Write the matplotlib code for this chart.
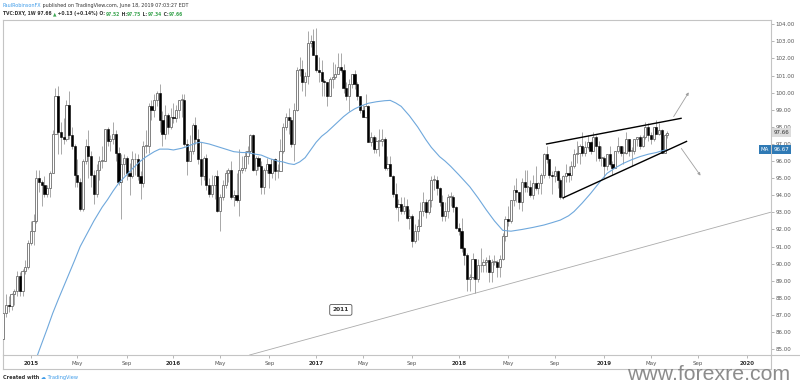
import numpy as np
import pandas as pd
import matplotlib
matplotlib.use("Agg")
import matplotlib.pyplot as plt
from matplotlib.lines import Line2D

# weekly DXY bars, first bar = week of 2014-10-27
first_week = "2014-10-27"

opens = [
    85.6, 87.1, 87.6, 87.5, 88.2, 88.4, 89.3, 88.4, 89.6, 89.8,
    # 2015
    91.2, 91.9, 92.5, 95.0, 94.8, 94.6, 94.1, 94.4, 95.3, 97.6, 99.8, 97.7, 97.4,
    97.3, 99.3, 97.5, 96.9, 95.2, 94.8, 93.2, 96.0, 96.9, 96.3, 95.2, 94.1, 95.5,
    96.0, 96.0, 97.9, 97.2, 97.3, 97.6, 96.5, 94.8, 95.8, 96.2, 95.3, 95.1, 96.1,
    96.1, 95.1, 94.7, 96.9, 96.9, 99.2, 99.0, 99.6, 100.0, 98.4, 97.6, 98.7, 98.0,
    # 2016
    98.6, 98.5, 99.0, 99.6, 99.6, 97.0, 96.0, 96.6, 98.1, 97.3, 96.1, 95.1, 96.2,
    94.6, 94.1, 94.6, 95.1, 93.1, 93.9, 94.6, 95.3, 95.5, 93.9, 94.0, 93.7, 95.5,
    95.6, 96.3, 96.6, 97.5, 95.5, 96.2, 95.7, 94.5, 95.5, 95.8, 95.3, 96.1, 95.4,
    95.4, 96.6, 98.0, 98.6, 98.4, 97.0, 99.0, 101.3, 101.4, 100.6, 101.0, 102.9, 103.0,
    # 2017
    102.2, 101.3, 101.2, 100.7, 100.6, 99.8, 100.8, 100.9, 101.1, 101.5, 101.3, 100.3, 99.8,
    100.5, 101.1, 100.5, 99.8, 99.0, 98.6, 99.2, 97.1, 97.4, 96.7, 97.2, 97.2, 97.3,
    95.6, 95.8, 95.1, 94.1, 93.3, 93.5, 93.1, 93.4, 92.7, 92.8, 91.3, 91.9, 92.2,
    93.1, 93.6, 93.0, 93.7, 94.9, 94.9, 94.4, 93.6, 92.8, 93.1, 93.9, 93.9, 93.3,
    # 2018
    92.1, 91.9, 90.9, 90.5, 89.1, 89.2, 90.3, 89.1, 89.9, 89.9, 90.1, 90.2, 89.5,
    90.1, 90.1, 89.8, 90.3, 91.6, 92.6, 92.5, 93.7, 94.3, 94.2, 93.6, 94.8, 94.5,
    94.5, 94.0, 94.7, 94.4, 94.7, 95.2, 96.4, 96.1, 95.2, 95.1, 95.4, 94.9, 93.9,
    95.1, 95.3, 95.2, 95.7, 96.4, 96.5, 96.9, 96.5, 96.8, 97.1, 96.6, 97.4, 96.9,
    # 2019
    96.2, 96.2, 95.7, 96.4, 95.8, 95.6, 96.6, 96.9, 96.5, 96.5, 97.3, 96.6, 96.6,
    97.3, 97.4, 96.9, 97.4, 98.0, 97.5, 97.3, 98.0, 97.6, 97.8, 96.5, 97.52,
]
highs = [
    87.3, 88.2, 88.1, 88.3, 88.5, 89.6, 89.5, 89.7, 90.2, 91.4,
    92.5, 92.9, 95.5, 95.5, 94.9, 95.1, 94.6, 95.4, 97.8, 100.3, 100.4, 98.3, 98.5,
    99.6, 100.1, 98.0, 97.0, 96.1, 95.0, 96.1, 97.3, 97.8, 96.6, 95.5, 95.8, 96.3,
    96.9, 97.9, 98.0, 97.5, 98.3, 97.8, 96.8, 96.4, 96.4, 96.3, 95.9, 96.6, 96.5,
    96.4, 95.4, 97.2, 97.8, 99.4, 99.6, 99.9, 100.1, 100.5, 98.9, 99.3, 98.8, 99.1,
    99.4, 99.3, 99.6, 99.9, 99.9, 97.3, 97.5, 98.2, 98.6, 97.9, 97.1, 96.3, 96.4,
    95.0, 95.2, 95.2, 95.5, 94.1, 94.9, 95.5, 95.6, 96.0, 94.3, 95.3, 96.7, 96.3,
    96.6, 96.9, 97.6, 97.6, 96.3, 96.3, 96.0, 95.6, 96.2, 95.8, 96.1, 96.2, 95.8,
    97.3, 98.2, 98.8, 99.1, 98.6, 99.4, 101.5, 102.1, 101.9, 101.2, 103.6, 103.4, 103.7,
    103.8, 102.1, 101.9, 100.8, 100.6, 100.9, 101.8, 101.7, 102.3, 102.3, 101.7, 100.6, 100.8,
    101.1, 101.3, 100.6, 99.8, 99.3, 99.9, 99.3, 97.7, 97.5, 97.4, 97.9, 97.9, 97.4,
    96.3, 96.3, 95.2, 94.7, 93.8, 93.9, 93.9, 93.8, 93.2, 92.9, 92.3, 92.6, 93.6,
    94.2, 93.8, 93.8, 95.1, 95.2, 95.1, 94.5, 94.0, 93.6, 94.1, 94.2, 94.0, 93.4,
    92.4, 92.7, 91.0, 90.6, 89.4, 90.6, 90.3, 90.3, 90.9, 90.3, 90.4, 90.5, 90.3,
    90.5, 90.2, 90.5, 91.8, 92.8, 93.4, 93.7, 94.6, 95.0, 94.2, 95.0, 95.5, 95.5,
    94.9, 95.2, 95.7, 94.8, 95.3, 96.5, 96.9, 96.1, 95.4, 95.7, 95.5, 95.0, 95.2,
    95.8, 95.7, 96.0, 96.7, 97.2, 97.0, 97.7, 97.2, 97.5, 97.2, 97.7, 97.5, 97.2,
    96.9, 96.3, 96.4, 96.9, 96.0, 96.6, 97.4, 96.9, 96.9, 97.7, 97.3, 96.8, 97.3,
    97.4, 97.5, 97.5, 98.3, 98.2, 97.7, 98.0, 98.4, 98.2, 97.9, 97.6, 97.75,
]
lows = [
    85.5, 86.9, 87.2, 87.3, 87.6, 88.1, 88.1, 88.1, 89.4, 89.7,
    91.1, 91.1, 92.4, 94.2, 93.4, 93.9, 93.9, 93.9, 95.3, 97.6, 96.4, 96.4, 97.0,
    97.2, 97.3, 96.7, 94.5, 94.5, 93.1, 93.1, 95.8, 95.0, 94.5, 93.5, 93.9, 94.9,
    95.6, 96.0, 96.9, 96.6, 97.0, 96.0, 94.6, 92.6, 95.2, 94.9, 94.0, 95.0, 95.2,
    94.9, 93.8, 94.5, 96.5, 96.5, 98.4, 98.6, 99.2, 97.7, 96.9, 97.3, 97.6, 97.9,
    98.2, 98.3, 98.5, 98.6, 96.9, 95.2, 96.0, 96.4, 97.0, 95.8, 94.6, 94.9, 94.3,
    93.9, 93.9, 93.8, 93.0, 91.9, 93.7, 94.4, 94.8, 93.8, 93.4, 93.6, 92.8, 95.3,
    95.4, 95.8, 96.5, 95.4, 95.2, 95.5, 94.1, 94.1, 95.3, 94.4, 95.0, 94.9, 95.0,
    95.4, 96.5, 97.8, 97.6, 96.8, 96.0, 98.9, 101.0, 100.1, 99.8, 100.5, 102.7, 102.2,
    101.2, 100.6, 99.8, 99.8, 99.2, 99.8, 100.3, 100.8, 101.1, 101.2, 100.0, 99.6, 98.9,
    100.3, 100.2, 99.6, 98.8, 98.6, 98.5, 97.1, 96.9, 96.5, 96.5, 96.3, 96.9, 95.5,
    95.5, 95.1, 93.9, 93.2, 92.5, 92.9, 92.9, 92.6, 92.0, 91.0, 91.2, 91.4, 92.2,
    92.8, 92.7, 92.9, 93.3, 94.3, 94.0, 93.4, 92.5, 92.5, 92.7, 93.4, 93.0, 92.0,
    91.7, 90.7, 89.9, 88.4, 88.4, 89.1, 88.3, 88.9, 89.5, 89.5, 89.5, 88.9, 88.9,
    89.9, 89.2, 89.2, 90.2, 91.3, 92.2, 92.4, 93.4, 93.6, 93.2, 93.1, 94.2, 94.2,
    93.9, 93.8, 94.3, 94.1, 94.1, 95.0, 95.9, 95.0, 94.1, 94.8, 94.4, 93.8, 93.8,
    94.8, 94.8, 94.9, 95.6, 95.9, 95.8, 96.3, 96.3, 96.7, 96.4, 96.6, 96.0, 96.0,
    95.7, 95.0, 95.5, 95.7, 95.2, 95.6, 96.5, 96.3, 95.8, 96.4, 96.3, 95.7, 96.4,
    96.9, 96.7, 96.8, 97.3, 97.2, 97.0, 97.2, 97.6, 97.5, 96.5, 96.5, 97.34,
]
closes = [
    87.1, 87.6, 87.5, 88.2, 88.4, 89.3, 88.4, 89.6, 89.8, 91.2,
    91.9, 92.5, 95.0, 94.8, 94.6, 94.1, 94.4, 95.3, 97.6, 99.8, 97.7, 97.4, 97.3,
    99.3, 97.5, 96.9, 95.2, 94.8, 93.2, 96.0, 96.9, 96.3, 95.2, 94.1, 95.5, 96.0,
    96.0, 97.9, 97.2, 97.3, 97.6, 96.5, 94.8, 95.8, 96.2, 95.3, 95.1, 96.1, 96.1,
    95.1, 94.7, 96.9, 96.9, 99.2, 99.0, 99.6, 100.0, 98.4, 97.6, 98.7, 98.0, 98.6,
    98.5, 99.0, 99.6, 99.6, 97.0, 96.0, 96.6, 98.1, 97.3, 96.1, 95.1, 96.2, 94.6,
    94.1, 94.6, 95.1, 93.1, 93.9, 94.6, 95.3, 95.5, 93.9, 94.0, 93.7, 95.5, 95.6,
    96.3, 96.6, 97.5, 95.5, 96.2, 95.7, 94.5, 95.5, 95.8, 95.3, 96.1, 95.4, 95.4,
    96.6, 98.0, 98.6, 98.4, 97.0, 99.0, 101.3, 101.4, 100.6, 101.0, 102.9, 103.0, 102.2,
    101.3, 101.2, 100.7, 100.6, 99.8, 100.8, 100.9, 101.1, 101.5, 101.3, 100.3, 99.8, 100.5,
    101.1, 100.5, 99.8, 99.0, 98.6, 99.2, 97.1, 97.4, 96.7, 97.2, 97.2, 97.3, 95.6,
    95.8, 95.1, 94.1, 93.3, 93.5, 93.1, 93.4, 92.7, 92.8, 91.3, 91.9, 92.2, 93.1,
    93.6, 93.0, 93.7, 94.9, 94.9, 94.4, 93.6, 92.8, 93.1, 93.9, 93.9, 93.3, 92.1,
    91.9, 90.9, 90.5, 89.1, 89.2, 90.3, 89.1, 89.9, 89.9, 90.1, 90.2, 89.5, 90.1,
    90.1, 89.8, 90.3, 91.6, 92.6, 92.5, 93.7, 94.3, 94.2, 93.6, 94.8, 94.5, 94.5,
    94.0, 94.7, 94.4, 94.7, 95.2, 96.4, 96.1, 95.2, 95.1, 95.4, 94.9, 93.9, 95.1,
    95.3, 95.2, 95.7, 96.4, 96.5, 96.9, 96.5, 96.8, 97.1, 96.6, 97.4, 96.9, 96.2,
    96.2, 95.7, 96.4, 95.8, 95.6, 96.6, 96.9, 96.5, 96.5, 97.3, 96.6, 96.6, 97.3,
    97.4, 96.9, 97.4, 98.0, 97.5, 97.3, 98.0, 97.6, 97.8, 96.5, 97.53, 97.66,
]

# moving average (bar index, value)
ma_bar = [11, 13, 16, 18, 20, 23, 26, 28, 31, 33, 36, 38, 40, 42, 45, 47, 50,
          52, 55, 57, 60, 62, 65, 67, 70, 72, 75, 77, 80, 84, 87, 89, 92, 94,
          97, 100, 102, 104, 106, 108, 110, 112, 114, 116, 118, 120, 122, 124,
          126, 128, 130, 133, 136, 139, 141, 143, 145, 148, 151, 154, 156, 159,
          161, 163, 166, 168, 170, 173, 176, 179, 182, 185, 189, 193, 197, 200,
          203, 206, 208, 211, 214, 217, 220, 223, 226, 229, 232, 235, 238, 240,
          242]
ma_val = [84.0, 84.9, 86.2, 87.1, 87.9, 89.05, 90.2, 91.0, 91.9, 92.5, 93.3,
          93.75, 94.25, 94.7, 95.2, 95.55, 96.0, 96.25, 96.55, 96.7, 96.7, 96.65,
          96.75, 96.85, 97.05, 97.1, 97.0, 96.9, 96.75, 96.55, 96.5, 96.5, 96.4,
          96.35, 96.15, 96.0, 95.95, 95.85, 95.8, 95.95, 96.2, 96.65, 97.1, 97.45,
          97.7, 98.0, 98.3, 98.6, 98.85, 99.05, 99.2, 99.38, 99.47, 99.53, 99.55,
          99.4, 99.2, 98.65, 98.0, 97.25, 96.8, 96.26, 96.0, 95.7, 95.2, 94.85,
          94.5, 93.85, 93.15, 92.5, 91.95, 91.9, 92.0, 92.12, 92.26, 92.4, 92.55,
          92.8, 93.05, 93.55, 94.1, 94.7, 95.28, 95.6, 95.87, 96.08, 96.26, 96.4,
          96.5, 96.6, 96.67]

# drawings
trend_bar, trend_val = [163, 264], [87.88, 92.32]          # 2011 trendline
upper_bar, upper_val = [198, 247], [97.0, 98.5]            # wedge top
lower_bar, lower_val = [204, 249], [93.85, 97.15]          # wedge bottom
arrow_up = [(244.3, 98.6), (249.8, 100.02)]
arrow_dn = [(247.1, 96.74), (254.1, 95.15)]

last_price, ma_last = 97.66, 96.67
price_ticks = list(range(85, 105))

W, H = 800, 385
fig = plt.figure(figsize=(W / 100, H / 100), dpi=100)
L, R, T, B = 2.5, 770.5, 20, 355
ax = fig.add_axes([L / W, 1 - B / H, (R - L) / W, (B - T) / H])

o = np.array(opens)
h = np.array(highs)
l = np.array(lows)
c = np.array(closes)
idx = np.arange(len(c))
up = c >= o

ax.vlines(idx, l, h, color="#9a9a9a", lw=0.6, zorder=2)
bot = np.minimum(o, c)
hgt = np.maximum(np.abs(c - o), 0.05)
ax.bar(idx[up], hgt[up], bottom=bot[up], width=0.78, facecolor="white",
       edgecolor="#6e6e6e", linewidth=0.6, zorder=3)
ax.bar(idx[~up], hgt[~up], bottom=bot[~up], width=0.78, facecolor="black",
       edgecolor="black", linewidth=0.4, zorder=3)

ax.plot(ma_bar, ma_val, color="#6fa8dc", lw=0.8, zorder=4)

ax.axline((trend_bar[0], trend_val[0]), (trend_bar[1], trend_val[1]),
          color="#ababab", lw=0.6, zorder=1)
ax.plot(upper_bar, upper_val, color="black", lw=1.0, zorder=5)
ax.plot(lower_bar, lower_val, color="black", lw=1.0, zorder=5)
for a in (arrow_up, arrow_dn):
    ax.annotate("", xy=a[1], xytext=a[0],
                arrowprops=dict(arrowstyle="-|>", color="#a0a0a0", lw=0.6,
                                mutation_scale=4, shrinkA=0, shrinkB=0))

ax.text(123, 87.3, "2011", fontsize=4.2, fontweight="bold", color="#333333",
        ha="center", va="center", zorder=6,
        bbox=dict(boxstyle="round,pad=0.5,rounding_size=0.3", fc="white",
                  ec="#555555", lw=0.6))

ax.set_xlim(-0.3, 279.6)
ax.set_ylim(84.66, 104.25)

# y axis on the right
ax.yaxis.tick_right()
ax.set_yticks(price_ticks)
ax.set_yticklabels([f"{v:.2f}" for v in price_ticks])
ax.tick_params(axis="y", direction="out", length=2.2, width=0.5, pad=1.5,
               labelsize=4.0, colors="#9a9a9a", labelcolor="#555555")

# x axis: first weekly bar of Jan / May / Sep
dates = pd.date_range(first_week, periods=281, freq="W-MON")
xt, xl = [], []
for i in range(1, len(dates)):
    if dates[i].month != dates[i - 1].month and dates[i].month in (1, 5, 9):
        xt.append(i)
        xl.append(str(dates[i].year) if dates[i].month == 1 else dates[i].strftime("%b"))
ax.set_xticks(xt)
ax.set_xticklabels(xl)
ax.tick_params(axis="x", direction="out", length=2.2, width=0.5, pad=2,
               labelsize=4.0, colors="#9a9a9a", labelcolor="#555555")
for t, s in zip(ax.get_xticklabels(), xl):
    if s.isdigit():
        t.set_fontweight("bold")
        t.set_color("#333333")

for s in ax.spines.values():
    s.set_color("#c4c4c4")
    s.set_linewidth(0.8)

# outer frame
fr = dict(color="#c4c4c4", lw=0.8, transform=fig.transFigure)
fig.add_artist(Line2D([L / W, L / W], [1 - B / H, 1 - 369 / H], **fr))
fig.add_artist(Line2D([R / W, R / W], [1 - B / H, 1 - 369 / H], **fr))
fig.add_artist(Line2D([L / W, R / W], [1 - 369 / H, 1 - 369 / H], **fr))
fig.add_artist(Line2D([R / W, 1.0], [1 - B / H, 1 - B / H], **fr))

# price tags
tr = ax.get_yaxis_transform()
ax.text(1.004, last_price, "97.66", transform=tr, fontsize=4.0, color="#333333",
        ha="left", va="center", zorder=7, clip_on=False,
        bbox=dict(boxstyle="square,pad=0.35", fc="#dcdcdc", ec="none"))
ax.text(1.004, ma_last, "96.67", transform=tr, fontsize=4.0, color="white",
        ha="left", va="center", zorder=7, clip_on=False,
        bbox=dict(boxstyle="square,pad=0.35", fc="#2f7ab5", ec="none"))
ax.text(0.998, ma_last, "MA", transform=tr, fontsize=4.0, color="white",
        ha="right", va="center", zorder=7, clip_on=False,
        bbox=dict(boxstyle="square,pad=0.35", fc="#2f7ab5", ec="none"))

rend = fig.canvas.get_renderer()


def text_line(parts, x0, y0, width, size):
    # draw coloured pieces one after another, scaled to a target width
    arts = []
    x = x0
    for s, col, wt in parts:
        t = fig.text(x / W, 1 - y0 / H, s, color=col, fontsize=size,
                     fontweight=wt, ha="left", va="center")
        x += t.get_window_extent(rend).width
        arts.append(t)
    k = width / (x - x0)
    x = x0
    for t in arts:
        t.set_fontsize(size * k)
        t.set_x(x / W)
        x += t.get_window_extent(rend).width


dark, green, blue = "#333333", "#3ea653", "#3d9be9"
text_line([("PaulRobinsonFX", blue, "normal"),
           (" published on TradingView.com, June 18, 2019 07:03:27 EDT", dark, "normal")],
          2.7, 5.5, 184, 4)
text_line([("TVC:DXY, 1W 97.66 ", dark, "bold"), ("\u25b2", green, "bold"),
           (" +0.13 (+0.14%) O:", dark, "bold"), ("97.52", green, "bold"),
           (" H:", dark, "bold"), ("97.75", green, "bold"),
           (" L:", dark, "bold"), ("97.34", green, "bold"),
           (" C:", dark, "bold"), ("97.66", green, "bold")],
          2.7, 14, 180, 4)
text_line([("Created with ", dark, "bold"), ("\u2601", blue, "normal"),
           (" TradingView", blue, "normal")], 3, 377.5, 75, 4)

wm = fig.text(627 / W, 1 - 380 / H, "www.forexre.com", fontsize=15,
              family="Liberation Sans", color="#808080", alpha=0.9,
              ha="left", va="baseline")
k = 163 / wm.get_window_extent(rend).width
wm.set_fontsize(15 * k)

fig.savefig("out.png", dpi=100, facecolor="white")
